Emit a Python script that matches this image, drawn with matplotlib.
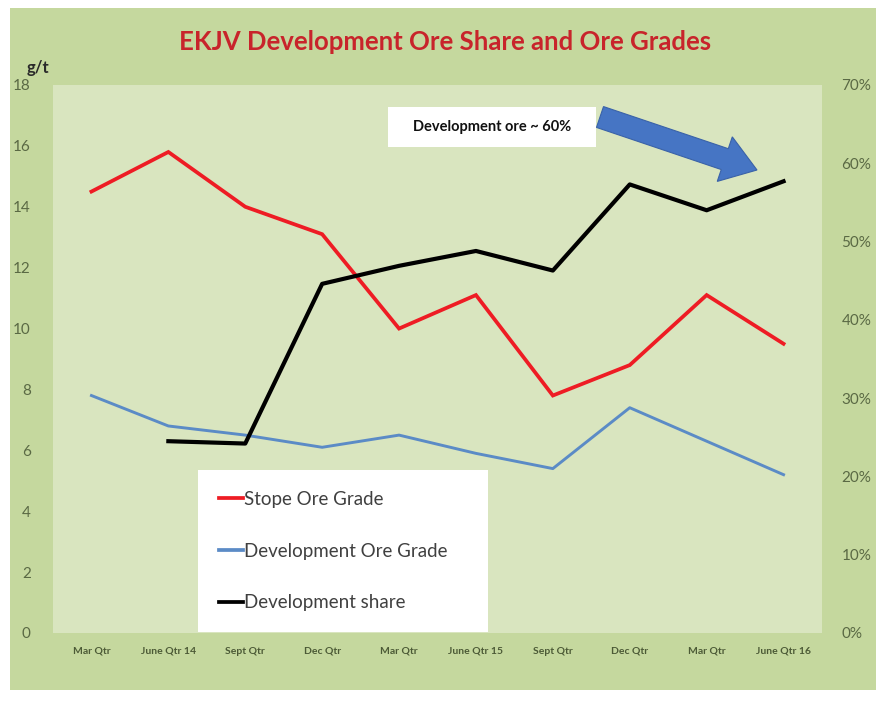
import numpy as np
import matplotlib
matplotlib.use("Agg")
import matplotlib.pyplot as plt
from matplotlib.patches import Rectangle, FancyArrow
from matplotlib.lines import Line2D

plt.rcParams['font.family'] = ['Lato', 'DejaVu Sans']

# Quarterly data
quarters = ['Mar Qtr', 'June Qtr 14', 'Sept Qtr', 'Dec Qtr', 'Mar Qtr',
            'June Qtr 15', 'Sept Qtr', 'Dec Qtr', 'Mar Qtr', 'June Qtr 16']
stope_grade = [14.5, 15.8, 14.0, 13.1, 10.0, 11.1, 7.8, 8.8, 11.1, 9.5]
dev_grade = [7.8, 6.8, 6.5, 6.1, 6.5, 5.9, 5.4, 7.4, 6.3, 5.2]
dev_share = [np.nan, 0.245, 0.242, 0.446, 0.469, 0.488, 0.463, 0.573, 0.540, 0.577]

left_ticks = list(range(0, 19, 2))
right_ticks = [0, 0.1, 0.2, 0.3, 0.4, 0.5, 0.6, 0.7]

outer_bg = '#c5d89e'
plot_bg = '#d9e5bf'
tick_col = '#5a6944'

fig = plt.figure(figsize=(8.8, 7.03), dpi=100, facecolor='white')
fig.patches.append(Rectangle((10 / 880, 13 / 703), 866 / 880, 682 / 703,
                             transform=fig.transFigure, facecolor=outer_bg,
                             edgecolor='none', zorder=-10))

ax = fig.add_axes([53 / 880, 70 / 703, 769 / 880, 548 / 703])
ax.set_facecolor(plot_bg)
x = np.arange(len(quarters))
ax.plot(x, stope_grade, color='#ee1c24', lw=2.7, solid_joinstyle='miter')
ax.plot(x, dev_grade, color='#5b8bc6', lw=2.1)
ax.set_xlim(-0.5, len(quarters) - 0.5)
ax.set_ylim(0, 18)
ax.set_yticks(left_ticks)
ax.set_xticks(x)
ax.set_xticklabels(quarters, fontsize=7.5, color='#4c5a36', fontweight='bold')
ax.tick_params(axis='y', labelsize=11, labelcolor=tick_col, length=0, pad=16)
ax.tick_params(axis='x', length=0, pad=10)
for s in ax.spines.values():
    s.set_visible(False)

ax2 = ax.twinx()
ax2.plot(x, dev_share, color='black', lw=3.0)
ax2.set_ylim(0, 0.70)
ax2.set_yticks(right_ticks)
ax2.set_yticklabels([f'{int(round(t * 100))}%' for t in right_ticks])
ax2.tick_params(axis='y', labelsize=11, labelcolor=tick_col, length=0, pad=14)
for s in ax2.spines.values():
    s.set_visible(False)

handles = [Line2D([], [], color='#ee1c24', lw=2.7),
           Line2D([], [], color='#5b8bc6', lw=2.7),
           Line2D([], [], color='black', lw=2.7)]
labels = ['Stope Ore Grade', 'Development Ore Grade', 'Development share']
leg = ax2.legend(handles, labels, loc='upper left',
                 bbox_to_anchor=(0.1886, 0.0, 0.377, 0.297), mode='expand',
                 borderaxespad=0, fontsize=13.5, labelspacing=1.85,
                 handlelength=1.3, handletextpad=0.05, borderpad=1.1,
                 frameon=True, fancybox=False, framealpha=1)
leg.get_frame().set_facecolor('white')
leg.get_frame().set_edgecolor('none')
for t in leg.get_texts():
    t.set_color('#404040')

fig.text(0.506, 0.940, 'EKJV Development Ore Share and Ore Grades',
         ha='center', va='center', fontsize=18.5, fontweight='bold', color='#c8242b')
fig.text(38 / 880, 1 - 68 / 703, 'g/t', ha='center', va='center',
         fontsize=12, fontweight='bold', color='#2a2a2a')

# callout box and arrow
fig.patches.append(Rectangle((388 / 880, 1 - 147 / 703), 208 / 880, 40 / 703,
                             transform=fig.transFigure, facecolor='white',
                             edgecolor='none', zorder=5))
fig.text(492 / 880, 1 - 127 / 703, 'Development ore ~ 60%', ha='center',
         va='center', fontsize=10.5, fontweight='bold', color='#111111', zorder=6)
fig.patches.append(FancyArrow(6.00, 5.86, 1.57, -0.53, width=0.22,
                              head_width=0.47, head_length=0.34,
                              length_includes_head=True,
                              transform=fig.dpi_scale_trans,
                              facecolor='#4675c4', edgecolor='#3a62a8',
                              lw=0.8, zorder=6))

fig.savefig('out.png', dpi=100, facecolor=fig.get_facecolor())
